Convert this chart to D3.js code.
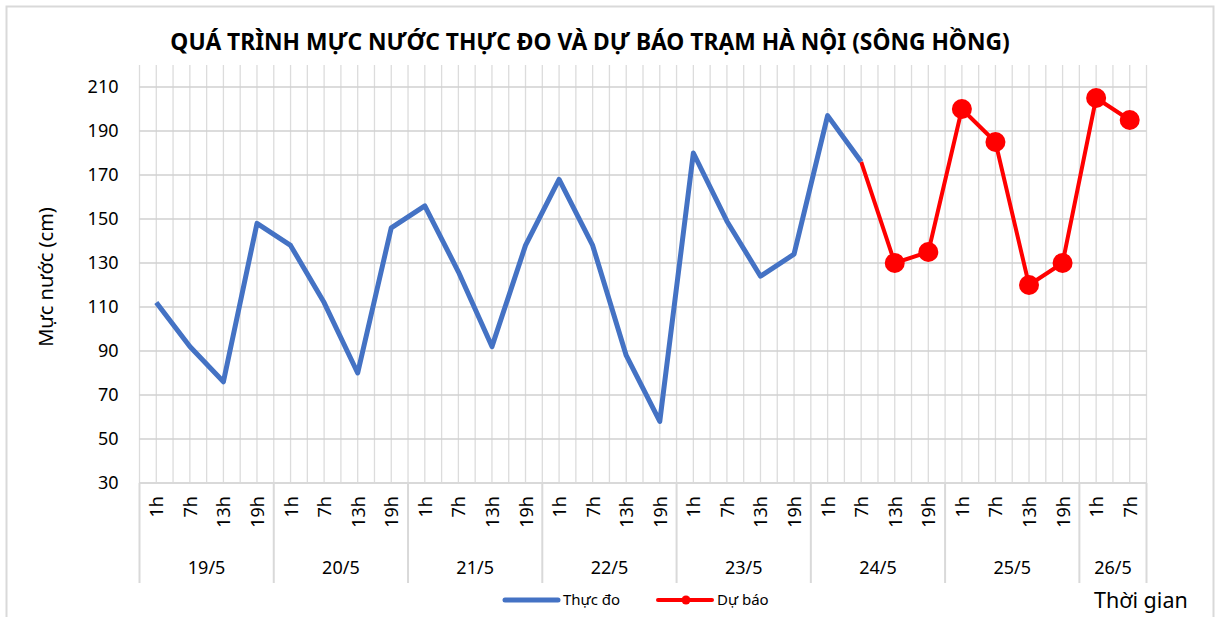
<!DOCTYPE html>
<html>
<head>
<meta charset="utf-8">
<script src="https://cdn.jsdelivr.net/npm/d3@7"></script>
<style>
  body { margin: 0; background: #fff; }
  text { font-family: "Noto Sans", "Open Sans", sans-serif; fill: #000; }
</style>
</head>
<body>
<div id="chart"></div>
<script>
// data
var days = ["19/5", "20/5", "21/5", "22/5", "23/5", "24/5", "25/5", "26/5"];
var hours = ["1h", "7h", "13h", "19h"];
var hoursPerDay = [4, 4, 4, 4, 4, 4, 4, 2];
var yTicks = [30, 50, 70, 90, 110, 130, 150, 170, 190, 210];

// measured (Thực đo), one value per category, null = no data
var measured = [112, 92, 76, 148,  138, 112, 80, 146,  156, 126, 92, 138,
                168, 138, 88, 58,  180, 149, 124, 134,  197, 176, null, null,
                null, null, null, null,  null, null];
// forecast (Dự báo), starts from last measured value
var forecast = [null, null, null, null,  null, null, null, null,  null, null, null, null,
                null, null, null, null,  null, null, null, null,  null, 176, 130, 135,
                200, 185, 120, 130,  205, 195];

var W = 1217, H = 617;
var plotLeft = 139.5, plotRight = 1146.5, plotTop = 65, plotBottom = 483;

// build category list
var cats = [];
days.forEach(function(d, i) {
    for (var k = 0; k < hoursPerDay[i]; k++) {
        cats.push({day: d, hour: hours[k], id: d + " " + hours[k]});
    }
});

var svg = d3.select("#chart").append("svg")
    .attr("width", W)
    .attr("height", H);

// outer chart border
svg.append("rect")
    .attr("x", 6.5).attr("y", 6.5)
    .attr("width", 1207).attr("height", 620)
    .attr("fill", "none")
    .attr("stroke", "#d9d9d9")
    .attr("stroke-width", 2);

var x = d3.scaleBand()
    .domain(cats.map(function(c) { return c.id; }))
    .range([plotLeft, plotRight])
    .padding(0);
var bw = x.bandwidth();

var y = d3.scaleLinear()
    .domain([30, 220])
    .range([plotBottom, plotTop]);

var grid = svg.append("g").attr("class", "grid");

// vertical gridlines every half category
var vx = [];
cats.forEach(function(c) { vx.push(x(c.id)); vx.push(x(c.id) + bw / 2); });
vx.push(plotRight);
grid.selectAll("line.v")
    .data(vx)
    .enter().append("line")
    .attr("class", "v")
    .attr("x1", function(d) { return d; })
    .attr("x2", function(d) { return d; })
    .attr("y1", plotTop).attr("y2", plotBottom)
    .attr("stroke", "#dcdcdc")
    .attr("stroke-width", 1.3);

// horizontal gridlines
grid.selectAll("line.h")
    .data(yTicks)
    .enter().append("line")
    .attr("class", "h")
    .attr("x1", plotLeft).attr("x2", plotRight)
    .attr("y1", function(d) { return y(d); })
    .attr("y2", function(d) { return y(d); })
    .attr("stroke", "#d0d0d0")
    .attr("stroke-width", 1.5);

// y axis labels
var yAxis = svg.append("g")
    .attr("transform", "translate(" + plotLeft + ",0)")
    .call(d3.axisLeft(y).tickValues(yTicks).tickSize(0).tickPadding(21));
yAxis.select(".domain").remove();
yAxis.selectAll("text")
    .style("font-family", "'Noto Sans', sans-serif")
    .style("font-size", "18px")
    .attr("fill", "#000");

// category axis: hour labels, day separators, day labels
var catAxis = svg.append("g");
catAxis.selectAll("text.hour")
    .data(cats)
    .enter().append("text")
    .attr("class", "hour")
    .attr("transform", function(c) {
        return "translate(" + (x(c.id) + bw / 2) + ",496) rotate(-90)";
    })
    .attr("text-anchor", "end")
    .attr("dominant-baseline", "central")
    .style("font-size", "18px")
    .text(function(c) { return c.hour; });

var dayStart = [], acc = 0;
days.forEach(function(d, i) { dayStart.push(acc); acc += hoursPerDay[i]; });
var sepX = dayStart.map(function(s) { return x(cats[s].id); });
sepX.push(plotRight);
catAxis.selectAll("line.sep")
    .data(sepX)
    .enter().append("line")
    .attr("class", "sep")
    .attr("x1", function(d) { return d; })
    .attr("x2", function(d) { return d; })
    .attr("y1", plotBottom).attr("y2", 583)
    .attr("stroke", "#d9d9d9")
    .attr("stroke-width", 2);

catAxis.selectAll("text.day")
    .data(days)
    .enter().append("text")
    .attr("class", "day")
    .attr("x", function(d, i) {
        var a = x(cats[dayStart[i]].id);
        var b = x(cats[dayStart[i] + hoursPerDay[i] - 1].id) + bw;
        return (a + b) / 2;
    })
    .attr("y", 574)
    .attr("text-anchor", "middle")
    .style("font-size", "18px")
    .text(function(d) { return d; });

// bottom axis line
svg.append("line")
    .attr("x1", plotLeft).attr("x2", plotRight)
    .attr("y1", plotBottom).attr("y2", plotBottom)
    .attr("stroke", "#d9d9d9")
    .attr("stroke-width", 2);

// series
var line = d3.line()
    .defined(function(d) { return d.v !== null; })
    .x(function(d) { return x(d.c.id) + bw / 2; })
    .y(function(d) { return y(d.v); });

var mData = cats.map(function(c, i) { return {c: c, v: measured[i]}; });
var fData = cats.map(function(c, i) { return {c: c, v: forecast[i]}; });

svg.append("path")
    .datum(fData)
    .attr("d", line)
    .attr("fill", "none")
    .attr("stroke", "#ff0000")
    .attr("stroke-width", 4)
    .attr("stroke-linejoin", "round");

svg.append("path")
    .datum(mData)
    .attr("d", line)
    .attr("fill", "none")
    .attr("stroke", "#4472c4")
    .attr("stroke-width", 5)
    .attr("stroke-linejoin", "round");

// forecast markers (not on the point shared with measured)
svg.selectAll("circle.fc")
    .data(fData.filter(function(d, i) { return d.v !== null && measured[i] === null; }))
    .enter().append("circle")
    .attr("class", "fc")
    .attr("cx", function(d) { return x(d.c.id) + bw / 2; })
    .attr("cy", function(d) { return y(d.v); })
    .attr("r", 10)
    .attr("fill", "#ff0000");

// title
svg.append("text")
    .attr("x", 590).attr("y", 50)
    .attr("text-anchor", "middle")
    .style("font-size", "22.8px")
    .style("font-weight", "bold")
    .text("QUÁ TRÌNH MỰC NƯỚC THỰC ĐO VÀ DỰ BÁO TRẠM HÀ NỘI (SÔNG HỒNG)");

// y axis title
svg.append("text")
    .attr("transform", "translate(45,277) rotate(-90)")
    .attr("text-anchor", "middle")
    .attr("dominant-baseline", "central")
    .style("font-size", "20px")
    .text("Mực nước (cm)");

// x axis title
svg.append("text")
    .attr("x", 1094).attr("y", 608)
    .style("font-size", "21.5px")
    .text("Thời gian");

// legend
var lg = svg.append("g");
lg.append("line")
    .attr("x1", 505).attr("x2", 558).attr("y1", 600).attr("y2", 600)
    .attr("stroke", "#4472c4").attr("stroke-width", 5).attr("stroke-linecap", "round");
lg.append("text")
    .attr("x", 563).attr("y", 605)
    .style("font-size", "15px")
    .text("Thực đo");
lg.append("line")
    .attr("x1", 658).attr("x2", 712).attr("y1", 600).attr("y2", 600)
    .attr("stroke", "#ff0000").attr("stroke-width", 4).attr("stroke-linecap", "round");
lg.append("circle")
    .attr("cx", 686).attr("cy", 600).attr("r", 4.5)
    .attr("fill", "#ff0000");
lg.append("text")
    .attr("x", 717).attr("y", 605)
    .style("font-size", "15px")
    .text("Dự báo");
</script>
</body>
</html>
